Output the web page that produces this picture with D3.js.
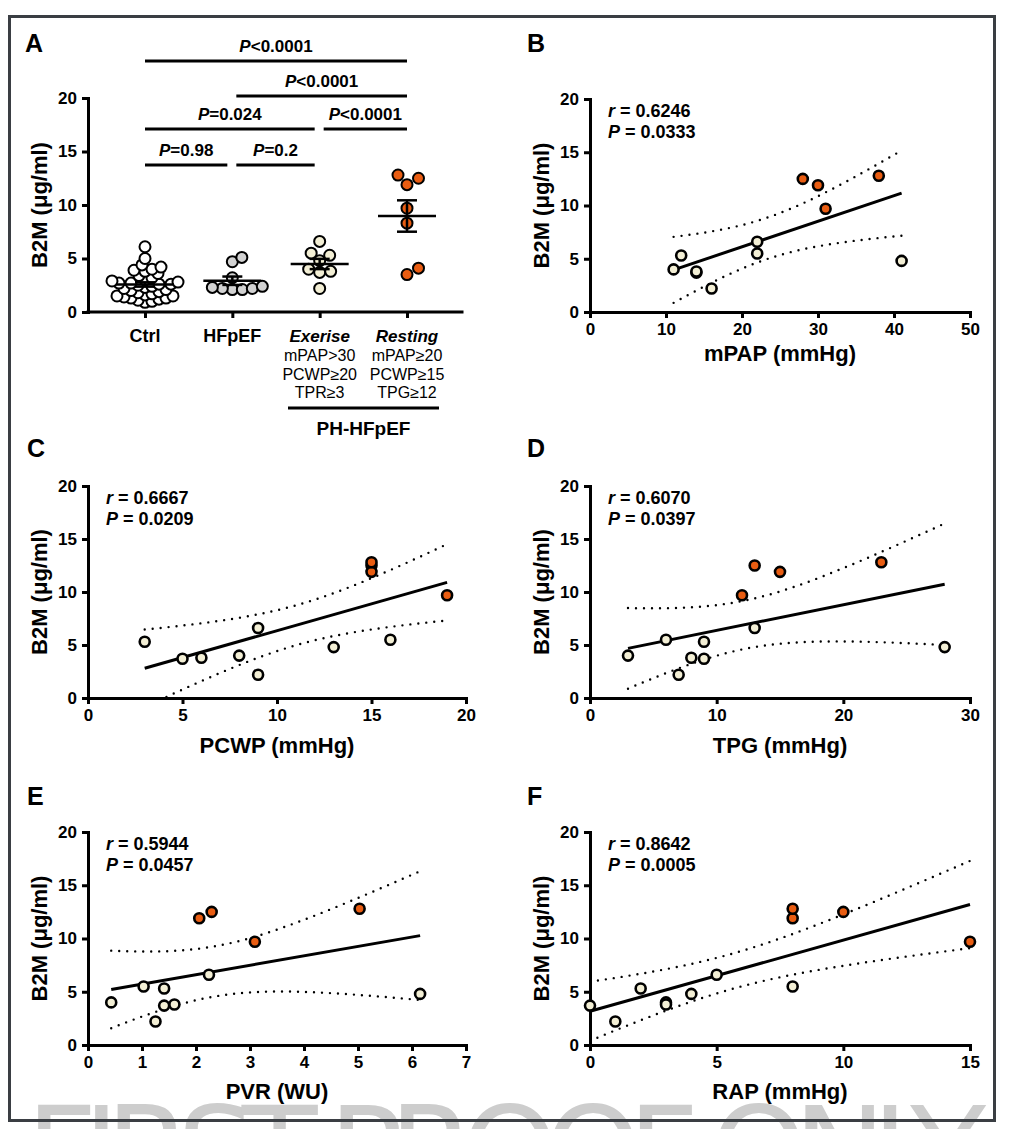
<!DOCTYPE html>
<html><head><meta charset="utf-8">
<script src="https://cdn.jsdelivr.net/npm/d3@7"></script>
<style>body{margin:0;background:#fff}</style>
</head><body><svg id="c" width="1015" height="1129"></svg>
<script>
// ---------------- DATA ----------------
const groups = ["Ctrl", "HFpEF", "Exerise", "Resting"];
const ctrlValues = [6.1, 5.0, 4.4, 4.2, 4.0, 3.9, 3.8, 3.6, 3.4, 3.2, 3.0, 2.9, 2.8, 2.7, 2.7, 2.6, 2.6, 2.5, 2.4, 2.3, 2.2, 2.1, 2.0, 1.9, 1.8, 1.7, 1.6, 1.5, 1.5, 1.4, 1.3, 1.3, 1.2, 1.1, 1.0, 0.9];
const hfpefValues = [5.1, 4.7, 3.2, 2.4, 2.3, 2.2, 2.2, 2.1, 2.1];
const exerciseValues = [6.6, 5.5, 5.3, 4.8, 4.0, 3.8, 3.7, 2.2];
const restingValues = [11.9, 12.8, 12.5, 9.7, 8.3, 3.5, 4.1];
const exerciseCriteria = ["mPAP>30", "PCWP≥20", "TPR≥3"];
const restingCriteria = ["mPAP≥20", "PCWP≥15", "TPG≥12"];
const sigPairs = [[0, 3], [1, 3], [0, 2], [2, 3], [0, 1], [1, 2]];
const sigLabels = ["<0.0001", "<0.0001", "=0.024", "<0.0001", "=0.98", "=0.2"];
const sigLevels = [0, 1, 2, 2, 3, 3];
const yTicks = [0, 5, 10, 15, 20];

// patients with catheter data (same order in every array)
const b2mValues = [4.0, 5.3, 3.7, 3.8, 2.2, 6.6, 5.5, 4.8, 12.5, 11.9, 9.7, 12.8];
const patientGroup = ["E", "E", "E", "E", "E", "E", "E", "E", "R", "R", "R", "R"];
const mpapValues = [11, 12, 14, 14, 16, 22, 22, 41, 28, 30, 31, 38];
const pcwpValues = [8, 3, 5, 6, 9, 9, 16, 13, 15, 15, 19, 15];
const tpgValues = [3, 9, 9, 8, 7, 13, 6, 28, 13, 15, 12, 23];
const pvrValues = [0.43, 1.41, 1.41, 1.6, 1.25, 2.24, 1.03, 6.15, 2.29, 2.06, 3.09, 5.03];
const rapValues = [3, 2, 0, 3, 1, 5, 8, 4, 10, 8, 15, 8];
const rTexts = ["0.6246", "0.6667", "0.6070", "0.5944", "0.8642"];
const pTexts = ["0.0333", "0.0209", "0.0397", "0.0457", "0.0005"];
const xTitles = ["mPAP (mmHg)", "PCWP (mmHg)", "TPG (mmHg)", "PVR (WU)", "RAP (mmHg)"];
const xMaxes = [50, 20, 30, 7, 15];
const xTickSets = [[0, 10, 20, 30, 40, 50], [0, 5, 10, 15, 20], [0, 10, 20, 30], [0, 1, 2, 3, 4, 5, 6, 7], [0, 5, 10, 15]];

// ---------------- STYLE ----------------
const FONT = "'Liberation Sans', Arial, Helvetica, sans-serif";
const ORANGE = "#e95d12", BEIGE = "#f3efd5", GREY = "#d2d2d2";
const svg = d3.select("#c");
svg.append("rect").attr("width", 1015).attr("height", 1129).attr("fill", "#fff");

// watermark
svg.append("text").attr("x", 26).attr("y", 1196).attr("textLength", 960).attr("lengthAdjust", "spacing")
  .style("font-family", "'DejaVu Sans', sans-serif").style("font-size", "124px").attr("fill", "#cdcdcd")
  .text("FIRST PROOF ONLY");
// frame
svg.append("rect").attr("x", 9.5).attr("y", 16.5).attr("width", 985).attr("height", 1104)
  .attr("fill", "none").attr("stroke", "#3a3e43").attr("stroke-width", 3);

function txt(g, x, y, s, size, weight, anchor) {
  return g.append("text").attr("x", x).attr("y", y).attr("text-anchor", anchor || "start")
    .style("font-family", FONT).style("font-size", size + "px").style("font-weight", weight || "bold")
    .attr("fill", "#000").text(s);
}
function styleAxis(g) {
  g.attr("font-family", null).attr("font-size", null);
  g.select(".domain").attr("stroke", "#000").attr("stroke-width", 3).attr("stroke-linecap", "square");
  g.selectAll(".tick line").attr("stroke", "#000").attr("stroke-width", 3);
  g.selectAll(".tick text").attr("fill", "#000").style("font-family", FONT)
    .style("font-size", "17px").style("font-weight", "bold");
}
function yTitle(g, cx, cy) {
  g.append("text").attr("transform", `translate(${cx},${cy}) rotate(-90)`).attr("dy", "0.35em")
    .attr("text-anchor", "middle").style("font-family", FONT).style("font-size", "22px")
    .style("font-weight", "bold").text("B2M (μg/ml)");
}

// ---------------- PANEL A ----------------
const gA = svg.append("g");
txt(gA, 25, 52, "A", 25);
const A = { ox: 88, oy: 312, top: 98, right: 462 };
const yA = d3.scaleLinear().domain([0, 20]).range([A.oy, A.top]);
const xA = d3.scalePoint().domain(groups).range([145, 407]);

gA.append("g").attr("transform", `translate(${A.ox},0)`)
  .call(d3.axisLeft(yA).tickValues(yTicks).tickSize(6).tickPadding(5).tickSizeOuter(0)).call(styleAxis);
gA.append("line").attr("x1", A.ox).attr("x2", A.right).attr("y1", A.oy).attr("y2", A.oy)
  .attr("stroke", "#000").attr("stroke-width", 3).attr("stroke-linecap", "square");
const xAx = gA.append("g").attr("transform", `translate(0,${A.oy})`)
  .call(d3.axisBottom(xA).tickSize(6).tickSizeOuter(0).tickFormat(""));
styleAxis(xAx); xAx.select(".domain").remove();
yTitle(gA, A.ox - 49, (A.oy + A.top) / 2);

function swarm(vals, cx, dmin) {
  const placed = [];
  vals.map(v => v).sort((a, b) => a - b).forEach(v => {
    const py = yA(v);
    let best = null;
    for (let k = 0; k < 400 && best === null; k++) {
      const offs = k === 0 ? [0] : [k * 0.5, -k * 0.5];
      for (const o of offs) {
        if (placed.every(q => Math.hypot(q.x - (cx + o), q.y - py) >= dmin)) { best = o; break; }
      }
    }
    placed.push({ x: cx + best, y: py, v });
  });
  return placed;
}
const groupVals = [ctrlValues, hfpefValues, exerciseValues, restingValues];
const groupFill = ["#ffffff", GREY, BEIGE, ORANGE];
const groupD = [7, 10, 11, 13];
groupVals.forEach((vals, gi) => {
  const pts = swarm(vals, xA(groups[gi]), groupD[gi]);
  gA.append("g").selectAll("circle").data(pts).join("circle")
    .attr("cx", d => d.x).attr("cy", d => d.y).attr("r", 5.5)
    .attr("fill", groupFill[gi]).attr("stroke", "#000").attr("stroke-width", 2);
});
groupVals.forEach((vals, gi) => {
  const m = d3.mean(vals), se = d3.deviation(vals) / Math.sqrt(vals.length);
  const cx = xA(groups[gi]);
  const g = gA.append("g").attr("stroke", "#000").attr("stroke-width", 2.5);
  g.append("line").attr("x1", cx - 29).attr("x2", cx + 29).attr("y1", yA(m)).attr("y2", yA(m));
  g.append("line").attr("x1", cx).attr("x2", cx).attr("y1", yA(m - se)).attr("y2", yA(m + se));
  [m - se, m + se].forEach(v => g.append("line").attr("x1", cx - 10).attr("x2", cx + 10).attr("y1", yA(v)).attr("y2", yA(v)));
});
// significance bars
const levelY = [61, 96, 129, 165];
sigPairs.forEach((p, i) => {
  const x1 = xA(groups[p[0]]) + (p[0] > 0 ? 4 : 0);
  const x2 = xA(groups[p[1]]) - (p[1] < 3 ? 5 : 0);
  const ly = levelY[sigLevels[i]];
  gA.append("line").attr("x1", x1).attr("x2", x2).attr("y1", ly).attr("y2", ly)
    .attr("stroke", "#000").attr("stroke-width", 3);
  const t = txt(gA, (x1 + x2) / 2, ly - 9, "", 17, "bold", "middle");
  t.append("tspan").style("font-style", "italic").text("P");
  t.append("tspan").text(sigLabels[i]);
});
// category labels
txt(gA, xA("Ctrl"), 342, "Ctrl", 18, "bold", "middle");
txt(gA, xA("HFpEF"), 342, "HFpEF", 18, "bold", "middle");
txt(gA, xA("Exerise"), 342, "Exerise", 17, "bold", "middle").style("font-style", "italic");
txt(gA, xA("Resting"), 342, "Resting", 17, "bold", "middle").style("font-style", "italic");
exerciseCriteria.forEach((s, i) => txt(gA, xA("Exerise"), 361 + i * 18.5, s, 16, "normal", "middle"));
restingCriteria.forEach((s, i) => txt(gA, xA("Resting"), 361 + i * 18.5, s, 16, "normal", "middle"));
gA.append("line").attr("x1", 288).attr("x2", 439).attr("y1", 408).attr("y2", 408)
  .attr("stroke", "#000").attr("stroke-width", 3);
txt(gA, 363.5, 435, "PH-HFpEF", 19, "bold", "middle");

// ---------------- SCATTER PANELS ----------------
const layout = [
  { L: "B", ox: 590, oy: 312, top: 99, right: 970, lx: 527, ly: 52, tOff: 49 },
  { L: "C", ox: 88, oy: 698, top: 486, right: 466, lx: 27, ly: 457, tOff: 55 },
  { L: "D", ox: 590, oy: 698, top: 486, right: 970, lx: 527, ly: 457, tOff: 55 },
  { L: "E", ox: 88, oy: 1045, top: 832, right: 466, lx: 27, ly: 805, tOff: 54 },
  { L: "F", ox: 590, oy: 1045, top: 832, right: 970, lx: 527, ly: 805, tOff: 54 }
];
const xSets = [mpapValues, pcwpValues, tpgValues, pvrValues, rapValues];
const T975 = 2.228; // t(0.975, df=10)

layout.forEach((Lp, pi) => {
  const g = svg.append("g");
  txt(g, Lp.lx, Lp.ly, Lp.L, 25);
  const x = d3.scaleLinear().domain([0, xMaxes[pi]]).range([Lp.ox, Lp.right]);
  const y = d3.scaleLinear().domain([0, 20]).range([Lp.oy, Lp.top]);
  g.append("g").attr("transform", `translate(${Lp.ox},0)`)
    .call(d3.axisLeft(y).tickValues(yTicks).tickSize(6).tickPadding(5).tickSizeOuter(0)).call(styleAxis);
  g.append("g").attr("transform", `translate(0,${Lp.oy})`)
    .call(d3.axisBottom(x).tickValues(xTickSets[pi]).tickSize(6).tickPadding(5).tickSizeOuter(0).tickFormat(d3.format("d"))).call(styleAxis);
  yTitle(g, Lp.ox - 49, (Lp.oy + Lp.top) / 2);
  txt(g, (Lp.ox + Lp.right) / 2, Lp.oy + Lp.tOff, xTitles[pi], 22, "bold", "middle");
  const rt = txt(g, Lp.ox + 18, Lp.top + 18, "", 18, "bold");
  rt.append("tspan").style("font-style", "italic").text("r");
  rt.append("tspan").text(" = " + rTexts[pi]);
  const pt = txt(g, Lp.ox + 18, Lp.top + 39, "", 18, "bold");
  pt.append("tspan").style("font-style", "italic").text("P");
  pt.append("tspan").text(" = " + pTexts[pi]);

  // linear regression with 95% confidence band
  const xs = xSets[pi], ys = b2mValues, n = xs.length;
  const mx = d3.mean(xs), my = d3.mean(ys);
  const sxx = d3.sum(xs, v => (v - mx) ** 2);
  const sxy = d3.sum(xs.map((v, i) => (v - mx) * (ys[i] - my)));
  const b = sxy / sxx, a = my - b * mx;
  const sse = d3.sum(xs.map((v, i) => (ys[i] - a - b * v) ** 2));
  const s = Math.sqrt(sse / (n - 2));
  const [xmin, xmax] = d3.extent(xs);
  const grid = d3.range(0, 61).map(k => xmin + (xmax - xmin) * k / 60);
  const band = grid.map(xv => {
    const h = T975 * s * Math.sqrt(1 / n + (xv - mx) ** 2 / sxx);
    return { x: xv, f: a + b * xv, lo: a + b * xv - h, hi: a + b * xv + h };
  });
  const clipId = "clip" + Lp.L;
  svg.append("clipPath").attr("id", clipId).append("rect")
    .attr("x", Lp.ox).attr("y", Lp.top - 20).attr("width", Lp.right - Lp.ox + 20).attr("height", Lp.oy - Lp.top + 20);
  const cg = g.append("g").attr("clip-path", `url(#${clipId})`);
  ["lo", "hi"].forEach(k => {
    cg.append("path").datum(band).attr("fill", "none").attr("stroke", "#000").attr("stroke-width", 2.4)
      .attr("stroke-linecap", "round").attr("stroke-dasharray", "0,8")
      .attr("d", d3.line().x(d => x(d.x)).y(d => y(d[k])));
  });
  g.append("line").attr("x1", x(xmin)).attr("x2", x(xmax)).attr("y1", y(a + b * xmin)).attr("y2", y(a + b * xmax))
    .attr("stroke", "#000").attr("stroke-width", 3);
  g.append("g").selectAll("circle").data(xs.map((v, i) => ({ x: v, y: ys[i], grp: patientGroup[i] }))).join("circle")
    .attr("cx", d => x(d.x)).attr("cy", d => y(d.y)).attr("r", 5)
    .attr("fill", d => d.grp === "R" ? ORANGE : BEIGE).attr("stroke", "#000").attr("stroke-width", 2.6);
});
</script></body></html>
